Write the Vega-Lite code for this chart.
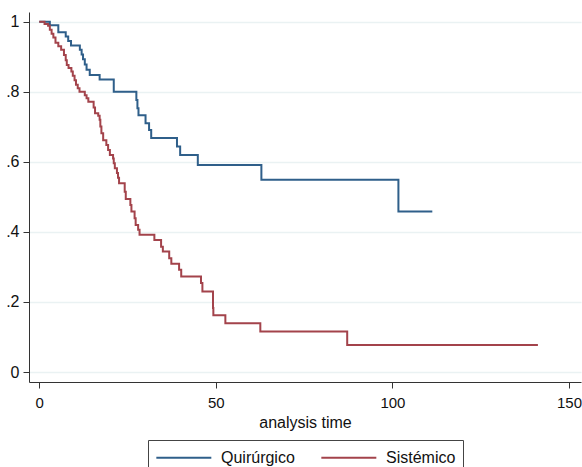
{
  "$schema": "https://vega.github.io/schema/vega-lite/v6.json",
  "width": 552,
  "height": 370,
  "autosize": {"type": "none"},
  "padding": {"left": 29, "top": 12, "right": 1, "bottom": 85},
  "background": "white",
  "config": {"view": {"stroke": null}, "font": "Liberation Sans"},
  "data": {
    "values": [
      {"g": "Quirúrgico", "t": 0, "s": 1},
      {"g": "Quirúrgico", "t": 3.0, "s": 0.99},
      {"g": "Quirúrgico", "t": 5.4, "s": 0.97},
      {"g": "Quirúrgico", "t": 7.5, "s": 0.958},
      {"g": "Quirúrgico", "t": 8.2, "s": 0.945},
      {"g": "Quirúrgico", "t": 9.0, "s": 0.932},
      {"g": "Quirúrgico", "t": 11.5, "s": 0.92},
      {"g": "Quirúrgico", "t": 12.0, "s": 0.907},
      {"g": "Quirúrgico", "t": 12.4, "s": 0.893},
      {"g": "Quirúrgico", "t": 12.9, "s": 0.878},
      {"g": "Quirúrgico", "t": 13.4, "s": 0.863},
      {"g": "Quirúrgico", "t": 14.3, "s": 0.848},
      {"g": "Quirúrgico", "t": 17.1, "s": 0.835},
      {"g": "Quirúrgico", "t": 21.1, "s": 0.8},
      {"g": "Quirúrgico", "t": 27.5, "s": 0.777},
      {"g": "Quirúrgico", "t": 27.8, "s": 0.753},
      {"g": "Quirúrgico", "t": 28.1, "s": 0.733},
      {"g": "Quirúrgico", "t": 30.1, "s": 0.71},
      {"g": "Quirúrgico", "t": 31.1, "s": 0.691},
      {"g": "Quirúrgico", "t": 31.7, "s": 0.668},
      {"g": "Quirúrgico", "t": 39.0, "s": 0.644},
      {"g": "Quirúrgico", "t": 39.9, "s": 0.62},
      {"g": "Quirúrgico", "t": 44.9, "s": 0.591},
      {"g": "Quirúrgico", "t": 62.9, "s": 0.549},
      {"g": "Quirúrgico", "t": 101.7, "s": 0.458},
      {"g": "Quirúrgico", "t": 111.3, "s": 0.458},
      {"g": "Sistémico", "t": 0, "s": 1},
      {"g": "Sistémico", "t": 1.5, "s": 0.994},
      {"g": "Sistémico", "t": 2.5, "s": 0.989},
      {"g": "Sistémico", "t": 3.0, "s": 0.977},
      {"g": "Sistémico", "t": 3.5, "s": 0.966},
      {"g": "Sistémico", "t": 4.0, "s": 0.955},
      {"g": "Sistémico", "t": 4.6, "s": 0.94},
      {"g": "Sistémico", "t": 5.4, "s": 0.93},
      {"g": "Sistémico", "t": 6.2, "s": 0.92},
      {"g": "Sistémico", "t": 7.0, "s": 0.905},
      {"g": "Sistémico", "t": 7.5, "s": 0.89},
      {"g": "Sistémico", "t": 7.8, "s": 0.877},
      {"g": "Sistémico", "t": 8.3, "s": 0.868},
      {"g": "Sistémico", "t": 9.1, "s": 0.858},
      {"g": "Sistémico", "t": 9.5, "s": 0.846},
      {"g": "Sistémico", "t": 10.0, "s": 0.833},
      {"g": "Sistémico", "t": 10.4, "s": 0.82},
      {"g": "Sistémico", "t": 10.9, "s": 0.81},
      {"g": "Sistémico", "t": 11.4, "s": 0.8},
      {"g": "Sistémico", "t": 12.9, "s": 0.79},
      {"g": "Sistémico", "t": 13.4, "s": 0.782},
      {"g": "Sistémico", "t": 13.9, "s": 0.772},
      {"g": "Sistémico", "t": 15.4, "s": 0.755},
      {"g": "Sistémico", "t": 15.8, "s": 0.739},
      {"g": "Sistémico", "t": 16.7, "s": 0.732},
      {"g": "Sistémico", "t": 17.1, "s": 0.72},
      {"g": "Sistémico", "t": 17.3, "s": 0.701},
      {"g": "Sistémico", "t": 17.6, "s": 0.682},
      {"g": "Sistémico", "t": 18.1, "s": 0.662},
      {"g": "Sistémico", "t": 19.0, "s": 0.648},
      {"g": "Sistémico", "t": 19.5, "s": 0.634},
      {"g": "Sistémico", "t": 20.0, "s": 0.62},
      {"g": "Sistémico", "t": 20.9, "s": 0.61},
      {"g": "Sistémico", "t": 21.1, "s": 0.596},
      {"g": "Sistémico", "t": 21.4, "s": 0.582},
      {"g": "Sistémico", "t": 22.0, "s": 0.568},
      {"g": "Sistémico", "t": 22.3, "s": 0.555},
      {"g": "Sistémico", "t": 22.6, "s": 0.539},
      {"g": "Sistémico", "t": 24.2, "s": 0.515},
      {"g": "Sistémico", "t": 24.5, "s": 0.494},
      {"g": "Sistémico", "t": 25.8, "s": 0.477},
      {"g": "Sistémico", "t": 26.1, "s": 0.458},
      {"g": "Sistémico", "t": 27.0, "s": 0.439},
      {"g": "Sistémico", "t": 27.3, "s": 0.42},
      {"g": "Sistémico", "t": 28.0, "s": 0.406},
      {"g": "Sistémico", "t": 28.4, "s": 0.392},
      {"g": "Sistémico", "t": 32.6, "s": 0.377},
      {"g": "Sistémico", "t": 34.5, "s": 0.358},
      {"g": "Sistémico", "t": 35.0, "s": 0.344},
      {"g": "Sistémico", "t": 36.8, "s": 0.325},
      {"g": "Sistémico", "t": 37.4, "s": 0.309},
      {"g": "Sistémico", "t": 39.6, "s": 0.292},
      {"g": "Sistémico", "t": 40.2, "s": 0.273},
      {"g": "Sistémico", "t": 45.8, "s": 0.254},
      {"g": "Sistémico", "t": 46.2, "s": 0.23},
      {"g": "Sistémico", "t": 49.2, "s": 0.183},
      {"g": "Sistémico", "t": 49.3, "s": 0.162},
      {"g": "Sistémico", "t": 52.7, "s": 0.139},
      {"g": "Sistémico", "t": 62.6, "s": 0.116},
      {"g": "Sistémico", "t": 87.2, "s": 0.077},
      {"g": "Sistémico", "t": 141.2, "s": 0.077}
    ]
  },
  "mark": {"type": "line", "interpolate": "step-after", "strokeWidth": 2},
  "encoding": {
    "x": {
      "field": "t",
      "type": "quantitative",
      "scale": {"domain": [-2.9, 153.4], "nice": false, "zero": false},
      "axis": {
        "values": [0, 50, 100, 150],
        "title": "analysis time",
        "grid": false,
        "domainColor": "#333333",
        "tickColor": "#333333",
        "tickSize": 6,
        "labelFontSize": 15,
        "labelColor": "#111111",
        "labelPadding": 7,
        "titleFontSize": 16,
        "titleFontWeight": "normal",
        "titleColor": "#111111",
        "titlePadding": 4
      }
    },
    "y": {
      "field": "s",
      "type": "quantitative",
      "scale": {"domain": [-0.0285, 1.028], "nice": false, "zero": false},
      "axis": {
        "values": [0, 0.2, 0.4, 0.6, 0.8, 1],
        "title": null,
        "grid": true,
        "gridColor": "#EAF2F3",
        "gridWidth": 1.5,
        "domainColor": "#333333",
        "tickColor": "#333333",
        "tickSize": 6,
        "labelFontSize": 16,
        "labelColor": "#111111",
        "labelPadding": 4,
        "labelExpr": "datum.value == 0 ? '0' : datum.value == 1 ? '1' : replace(format(datum.value, '.1f'), '0.', '.')"
      }
    },
    "color": {
      "field": "g",
      "type": "nominal",
      "scale": {"domain": ["Quirúrgico", "Sistémico"], "range": ["#2f5f8a", "#a3434b"]},
      "legend": {
        "title": null,
        "orient": "none",
        "legendX": 119,
        "legendY": 428,
        "direction": "horizontal",
        "symbolType": "M-1,0H5",
        "symbolSize": 336,
        "symbolStrokeWidth": 2,
        "labelOffset": 45,
        "labelFontSize": 16,
        "labelColor": "#111111",
        "strokeColor": "#444444",
        "fillColor": "white",
        "padding": 7,
        "columnPadding": 22
      }
    }
  }
}
